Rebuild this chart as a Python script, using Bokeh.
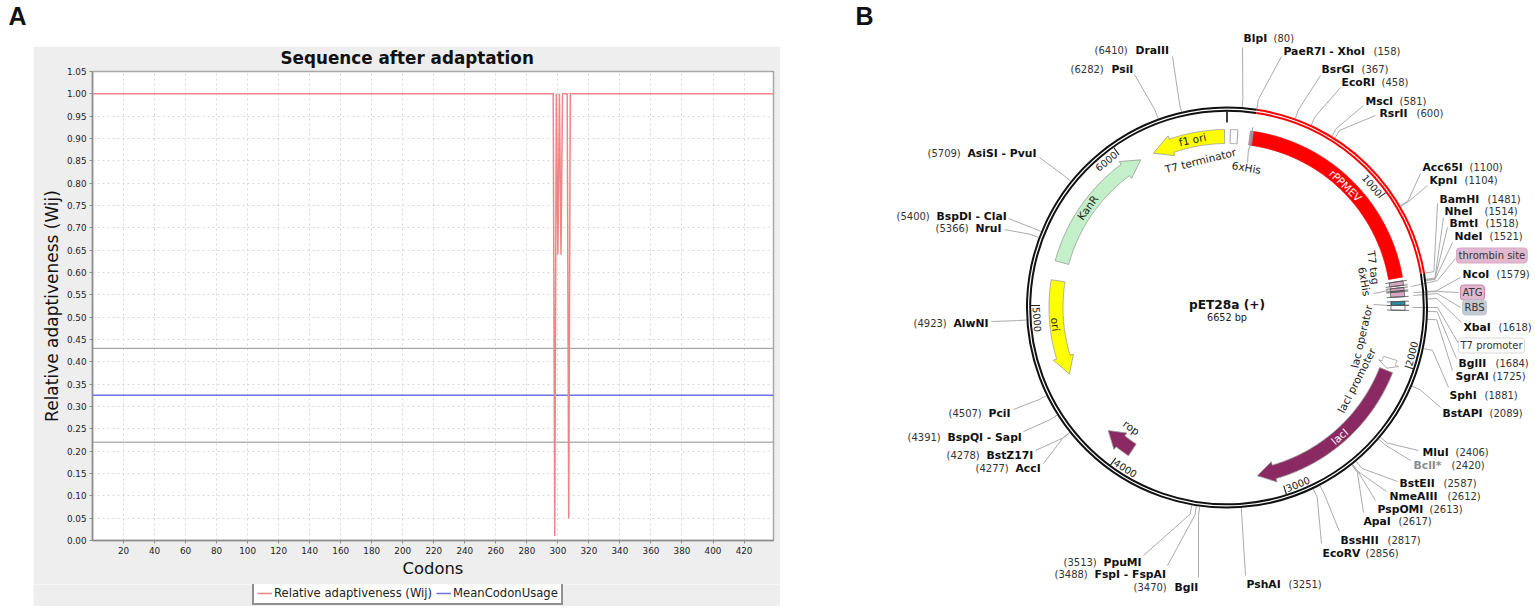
import numpy as np
from bokeh.core.properties import value
from bokeh.embed import file_html
from bokeh.layouts import column, row
from bokeh.models import (ColumnDataSource, FixedTicker, Label, Legend, LegendItem,
                          NumeralTickFormatter, Range1d)
from bokeh.plotting import figure
from bokeh.resources import INLINE

# ---------- Panel A data ----------
CODONS = list(range(0, 440))
WIJ = [1.0] * 298 + [0.01, 1.0, 0.64, 1.0, 0.64, 1.0, 1.0, 1.0, 1.0, 0.05] + [1.0] * 132
MEAN_USAGE = [0.325, 0.325]
UPPER_BAND = [0.43, 0.43]
LOWER_BAND = [0.22, 0.22]
X_TICKS = list(range(20, 421, 20))
Y_TICKS = [0.00, 0.05, 0.10, 0.15, 0.20, 0.25, 0.30, 0.35, 0.40, 0.45, 0.50,
           0.55, 0.60, 0.65, 0.70, 0.75, 0.80, 0.85, 0.90, 0.95, 1.00, 1.05]
LEGEND_LABELS = ["Relative adaptiveness (Wij)", "MeanCodonUsage"]

# ---------- Panel B data ----------
PLASMID_BP = 6652
MAP_TICKS = [1000, 2000, 3000, 4000, 5000, 6000]
SITE_NAMES = ["BlpI", "PaeR7I - XhoI", "BsrGI", "EcoRI", "MscI", "RsrII", "Acc65I", "KpnI",
              "BamHI", "NheI", "BmtI", "NdeI", "NcoI", "XbaI", "BglII", "SgrAI", "SphI",
              "BstAPI", "MluI", "BclI*", "BstEII", "NmeAIII", "PspOMI", "ApaI", "BssHII",
              "EcoRV", "PshAI",
              "DraIII", "PsiI", "AsiSI - PvuI", "BspDI - ClaI", "NruI", "AlwNI", "PciI",
              "BspQI - SapI", "BstZ17I", "AccI", "PpuMI", "FspI - FspAI", "BglI"]
SITE_BP = [80, 158, 367, 458, 581, 600, 1100, 1104,
           1481, 1514, 1518, 1521, 1579, 1618, 1684, 1725, 1881,
           2089, 2406, 2420, 2587, 2612, 2613, 2617, 2817,
           2856, 3251,
           6410, 6282, 5709, 5400, 5366, 4923, 4507,
           4391, 4278, 4277, 3513, 3488, 3470]
FEATURE_NAMES = ["KanR", "f1 ori", "ori", "lacI", "rop", "lac operator"]
FEATURE_START = [5270, 6637, 5155, 2060, 3947, 1983]
FEATURE_TIP = [6092, 6181, 4566, 3137, 4139, 2047]
FEATURE_HEAD_BASE = [5978, 6302, 4677, 3030, 4038, 2014]
BLOCK_NAMES = ["rPPMEV", "T7 terminator", "6xHis (C)", "T7 tag", "thrombin site", "6xHis (N)", "RBS", "T7 promoter"]
BLOCK_START = [158, 20, 140, 1504, 1543, 1567, 1626, 1650]
BLOCK_END = [1481, 65, 158, 1530, 1561, 1598, 1650, 1680]

# ---------- layout of panel B (page pixels) ----------
CX, CY = 1226.5, 307.0
NAME_X = [1243, 1283, 1321, 1341, 1365, 1379, 1422, 1429, 1439, 1444, 1449, 1454, 1462, 1463, 1458, 1455, 1449,
          1442, 1422, 1413, 1399, 1389, 1377, 1363, 1340, 1322, 1246,
          1135, 1111, 967, 936, 975, 953, 988, 947, 986, 1015, 1103, 1094, 1174]
POS_X = [1273, 1373, 1361, 1381, 1399, 1416, 1469, 1464, 1487, 1484, 1485, 1489, 1496, 1498, 1495, 1492, 1484,
         1489, 1455, 1451, 1443, 1447, 1429, 1398, 1387, 1365, 1288,
         1094, 1070, 927, 896, 935, 913, 948, 907, 946, 975, 1063, 1054, 1133]
LABEL_Y = [38, 51, 69, 82, 101, 113, 167, 180, 199, 211, 223, 236, 274, 327, 363, 376, 395,
           413, 452, 465, 483, 496, 509, 521, 540, 553, 584,
           50, 69, 153, 216, 228, 323, 413, 437, 455, 468, 562, 574, 587]
ANCHOR_X = [1242, 1281, 1320, 1340, 1363, 1375, 1420, 1427, 1437, 1443, 1447, 1452, 1460, 1461, 1456, 1452, 1448,
            1440, 1418, 1410, 1397, 1386, 1375, 1363, 1339, 1321, 1245,
            1172, 1134, 1039, 1008, 1004, 991, 1013, 1023, 1035, 1043, 1143, 1167, 1198]
ANCHOR_Y = [47, 56, 75, 87, 105, 115, 173, 185, 203, 217, 227, 242, 277, 322, 358, 370, 387,
            407, 450, 460, 481, 491, 500, 512, 531, 543, 575,
            56, 74, 157, 218, 229, 321, 409, 431, 450, 463, 555, 565, 577]
FEATURE_FILL = ["#c3f0c8", "#ffff00", "#ffff00", "#8b2a62", "#8b2a62", "#ffffff"]
BLOCK_FILL = ["#ff0000", "#ffffff", "#b79ac6", "#d8a8c2", "#d8a8c2", "#d8a8c2", "#2e8aa0", "#ffffff"]
BLOCK_LINE = ["#ff0000", "#8a8a8a", "#8a8a8a", "#444444", "#444444", "#444444", "#444444", "#444444"]


def xy(bp, r):
    th = 2 * np.pi * np.asarray(bp, dtype=float) / PLASMID_BP
    return r * np.sin(th), r * np.cos(th)


def px(x):
    return np.asarray(x, dtype=float) - CX


def py(y):
    return CY - np.asarray(y, dtype=float)


def block(b0, b1, r0=164, r1=178):
    t = np.linspace(b0, b1, 60)
    x0, y0 = xy(t, r1)
    x1, y1 = xy(t[::-1], r0)
    return list(np.r_[x0, x1]), list(np.r_[y0, y1])


def arrow(b0, tip, head, r0=164, r1=178, hr0=160.5, hr1=181.5):
    t = np.linspace(b0, head, 60)
    x0, y0 = xy(t, r1)
    x1, y1 = xy(t[::-1], r0)
    hx, hy = xy([head, tip, head], [hr1, (r0 + r1) / 2, hr0])
    return list(np.r_[x0, hx, x1]), list(np.r_[y0, hy, y1])


# ---------- header with the panel letters ----------
head = figure(width=1535, height=30, x_range=Range1d(0, 1535), y_range=Range1d(-30, 0),
              output_backend="svg", toolbar_location=None, x_axis_type=None, y_axis_type=None,
              min_border=0, outline_line_color=None, margin=(0, 0, 0, 0), frame_align=False)
head.grid.visible = False
head.text(x=[8, 855], y=[-15, -15], text=["A", "B"], text_font=value("Liberation Sans"),
          text_font_style="bold", text_font_size="25px", text_color="#111111",
          text_baseline="middle", text_align="left")

# ---------- panel A ----------
a = figure(width=747, height=538, x_range=Range1d(0, 439), y_range=Range1d(0, 1.05),
           output_backend="svg", toolbar_location=None, background_fill_color="white",
           border_fill_color="#eeeeee", min_border_left=59, min_border_right=7,
           min_border_top=25, min_border_bottom=44, margin=(16, 0, 0, 33), frame_align=False,
           title="Sequence after adaptation")
a.title.text_font = "DejaVu Sans"
a.title.text_font_size = "16.8px"
a.title.text_font_style = "bold"
a.title.text_color = "#111111"
a.title.align = "left"
a.title.vertical_align = "top"
a.title.offset = 188
a.title.standoff = 3
a.outline_line_color = "#a8a8a8"
a.outline_line_width = 1.5
for ax in (a.xaxis[0], a.yaxis[0]):
    ax.axis_line_color = "#8c8c8c"
    ax.axis_line_width = 1.5
    ax.major_tick_line_color = "#8c8c8c"
    ax.major_tick_out = 3
    ax.major_tick_in = 0
    ax.minor_tick_line_color = None
    ax.major_label_text_font = "DejaVu Sans"
    ax.major_label_text_font_size = "8.8px"
    ax.major_label_text_color = "#222222"
    ax.major_label_standoff = 3
    ax.axis_label_text_font = "DejaVu Sans"
    ax.axis_label_text_font_size = "16.4px"
    ax.axis_label_text_font_style = "normal"
    ax.axis_label_text_color = "#111111"
a.xaxis[0].ticker = FixedTicker(ticks=X_TICKS)
a.yaxis[0].ticker = FixedTicker(ticks=Y_TICKS)
a.yaxis[0].formatter = NumeralTickFormatter(format="0.00")
a.xaxis[0].axis_label = "Codons"
a.yaxis[0].axis_label = "Relative adaptiveness (Wij)"
a.yaxis[0].axis_label_text_font_size = "17px"
a.xaxis[0].axis_label_standoff = 2
a.yaxis[0].axis_label_standoff = 2
a.xgrid.grid_line_color = "#d8d8d8"
a.ygrid.grid_line_color = "#d8d8d8"
a.xgrid.grid_line_dash = "2 3"
a.ygrid.grid_line_dash = "2 3"
RED = "#f08488"
BLUE = "#6f6fe6"
a.line([0, 439], UPPER_BAND, line_color="#a6a6a6", line_width=1.3)
a.line([0, 439], LOWER_BAND, line_color="#b4b4b4", line_width=1.3)
a.line([0, 439], MEAN_USAGE, line_color=BLUE, line_width=1.5)
a.line(CODONS, WIJ, line_color=RED, line_width=1.5)

# legend strip under panel A, same grey, holding a real Legend
strip = figure(width=747, height=22, x_range=Range1d(0, 747), y_range=Range1d(0, 22),
               output_backend="svg", toolbar_location=None, x_axis_type=None, y_axis_type=None,
               min_border=0, outline_line_color=None, background_fill_color="#eeeeee",
               border_fill_color="#eeeeee", margin=(0, 0, 0, 33), frame_align=False)
strip.grid.visible = False
key_red = strip.line([0, 1], [-5, -5], line_color=RED, line_width=1.5)
key_blue = strip.line([0, 1], [-5, -5], line_color=BLUE, line_width=1.5)
legend = Legend(items=[LegendItem(label=LEGEND_LABELS[0], renderers=[key_red]),
                       LegendItem(label=LEGEND_LABELS[1], renderers=[key_blue])],
                location=(219, 1), orientation="horizontal", border_line_color="#222222",
                border_line_width=2, background_fill_color="white", background_fill_alpha=1,
                padding=3, margin=0, spacing=4, glyph_width=15, glyph_height=14,
                label_text_font="DejaVu Sans", label_text_font_size="11.6px",
                label_text_color="#222222", label_standoff=2, label_height=14)
strip.add_layout(legend)

# ---------- panel B ----------
b = figure(width=745, height=574, x_range=Range1d(790 - CX, 1535 - CX), y_range=Range1d(CY - 604, CY - 30),
           output_backend="svg", toolbar_location=None, x_axis_type=None, y_axis_type=None,
           min_border=0, outline_line_color=None, margin=(0, 0, 0, 10), frame_align=False)
b.grid.visible = False

# leaders
xs, ys = [], []
for bp, ax_, ay_ in zip(SITE_BP, ANCHOR_X, ANCHOR_Y):
    x0, y0 = xy(bp, 201)
    x1, y1 = xy(bp, 210)
    xs.append([float(x0), float(x1), float(px(ax_))])
    ys.append([float(y0), float(y1), float(py(ay_))])
LEADER_PAGE = [([1411, 1437, 1455], [286, 280, 258]), ([1413, 1438, 1458], [292, 291, 292]),
               ([1413, 1437, 1460], [295, 293, 307]), ([1412, 1437, 1458], [307, 307, 343]),
               ([1373, 1388], [293, 290]), ([1373, 1389], [304, 305]), ([1248, 1247], [148, 162])]
for lx, ly in LEADER_PAGE:
    xs.append(list(px(lx)))
    ys.append(list(py(ly)))
b.multi_line(xs, ys, line_color="#ababab", line_width=1.0)

# backbone
RING_RADII = [200, 196.8]
phi = lambda bp: np.pi / 2 - 2 * np.pi * bp / PLASMID_BP
for r in RING_RADII:
    b.arc(x=0, y=0, radius=r, start_angle=phi(1481), end_angle=phi(158 + PLASMID_BP),
          direction="clock", line_color="#111111", line_width=2)
    b.arc(x=0, y=0, radius=r, start_angle=phi(158), end_angle=phi(1481),
          direction="clock", line_color="#ff0000", line_width=2)

# ring ticks
tx0, ty0 = xy(MAP_TICKS, 196)
tx1, ty1 = xy(MAP_TICKS, 187)
b.segment(tx0, ty0, tx1, ty1, line_color="#222222", line_width=1.1)
zx0, zy0 = xy(0, 196)
zx1, zy1 = xy(0, 185)
b.segment([float(zx0)], [float(zy0)], [float(zx1)], [float(zy1)], line_color="#111111", line_width=1.6)
tb = np.array(MAP_TICKS) - 4.2 / 360 * PLASMID_BP
lx, ly = xy(tb, 190)
th = tb / PLASMID_BP * 360
rot = np.where((th > 90) & (th < 270), 180 - th, -th)
rot = np.radians(rot)
b.text(lx, ly, text=[str(t) for t in MAP_TICKS], angle=rot, text_font=value("DejaVu Sans"),
       text_font_size="9.8px", text_color="#222222", text_align="center", text_baseline="middle")

# features
bx, by = zip(*[block(s, e) for s, e in zip(BLOCK_START, BLOCK_END)])
b.patches(list(bx), list(by), fill_color=BLOCK_FILL, line_color=BLOCK_LINE, line_width=0.8)
for s, e in zip(BLOCK_START[3:], BLOCK_END[3:]):
    sx0, sy0 = xy([s, e], 160)
    sx1, sy1 = xy([s, e], 182)
    b.segment(sx0, sy0, sx1, sy1, line_color="#555555", line_width=0.8)
sx0, sy0 = xy(150, 160)
sx1, sy1 = xy(150, 182)
b.segment([float(sx0)], [float(sy0)], [float(sx1)], [float(sy1)], line_color="#8a8a8a", line_width=0.8)
ax_, ay_ = zip(*[arrow(s, t, h) for s, t, h in zip(FEATURE_START, FEATURE_TIP, FEATURE_HEAD_BASE)])
b.patches(list(ax_), list(ay_), fill_color=FEATURE_FILL, line_color="#9a9a9a", line_width=0.8)

# feature and map texts
MAP_TEXT = ["rPPMEV", "KanR", "f1 ori", "ori", "lacI", "T7 terminator", "6xHis", "T7 tag", "6xHis",
            "lac operator", "lacI promoter", "rop"]
MAP_TEXT_X = [1345, 1087, 1192, 1055, 1339, 1200, 1246, 1373, 1364, 1361, 1356, 1131]
MAP_TEXT_Y = [185, 207, 139, 324, 436, 160, 167, 267, 281, 336, 380, 427]
MAP_TEXT_ROT = [-44, 54, 12, -84, 41, 14, -10, -82, -80, 77, 63, -35]
MAP_TEXT_COLOR = ["white", "#222222", "#222222", "#222222", "white", "#222222", "#222222", "#222222",
                  "#222222", "#222222", "#222222", "#222222"]
b.text(px(MAP_TEXT_X), py(MAP_TEXT_Y), text=MAP_TEXT, angle=np.radians(MAP_TEXT_ROT),
       text_color=MAP_TEXT_COLOR, text_font=value("DejaVu Sans"), text_font_size="10.6px",
       text_align="center", text_baseline="middle")

# restriction sites
names = ColumnDataSource(dict(x=px(NAME_X), y=py(LABEL_Y), t=SITE_NAMES,
                              c=["#8c8c8c" if n == "BclI*" else "#111111" for n in SITE_NAMES]))
pos = ColumnDataSource(dict(x=px(POS_X), y=py(LABEL_Y), t=[f"({v})" for v in SITE_BP]))
b.text("x", "y", text="t", source=names, text_color="c", text_font=value("DejaVu Sans"),
       text_font_style="bold", text_font_size="10.8px", text_align="left", text_baseline="middle")
b.text("x", "y", text="t", source=pos, text_color="#333333", text_font=value("DejaVu Sans"),
       text_font_size="10px", text_align="left", text_baseline="middle")

# boxed feature labels
BOX_TEXT = ["thrombin site", "ATG", "RBS", "T7 promoter"]
BOX_X = [1456, 1460, 1462, 1458]
BOX_Y = [255, 292, 307, 345]
BOX_FILL = ["#e0b8cf", "#e0b8cf", "#c3c9d0", "#ffffff"]
BOX_LINE = ["#d9a8c4", "#c97fa8", "#c3c9d0", "#d8d8d8"]
for t, x_, y_, f, l in zip(BOX_TEXT, BOX_X, BOX_Y, BOX_FILL, BOX_LINE):
    b.add_layout(Label(x=float(px(x_)), y=float(py(y_)), text=t, text_font="DejaVu Sans", text_font_size="10px",
                       text_color="#333333", text_baseline="middle", text_align="left",
                       background_fill_color=f, border_line_color=l, border_line_width=1,
                       padding=2, border_radius=3))

# plasmid title
b.text([0], py([304]), text=["pET28a (+)"], text_font=value("DejaVu Sans"), text_font_style="bold",
       text_font_size="12.2px", text_color="#111111", text_align="center", text_baseline="middle")
b.text([0], py([317]), text=[f"{PLASMID_BP} bp"], text_font=value("DejaVu Sans"),
       text_font_size="9.7px", text_color="#222222", text_align="center", text_baseline="middle")

left_col = column(a, strip, spacing=0)
page = column(head, row(left_col, b, spacing=0), spacing=0)
open("out.html", "w").write(file_html(page, INLINE))
